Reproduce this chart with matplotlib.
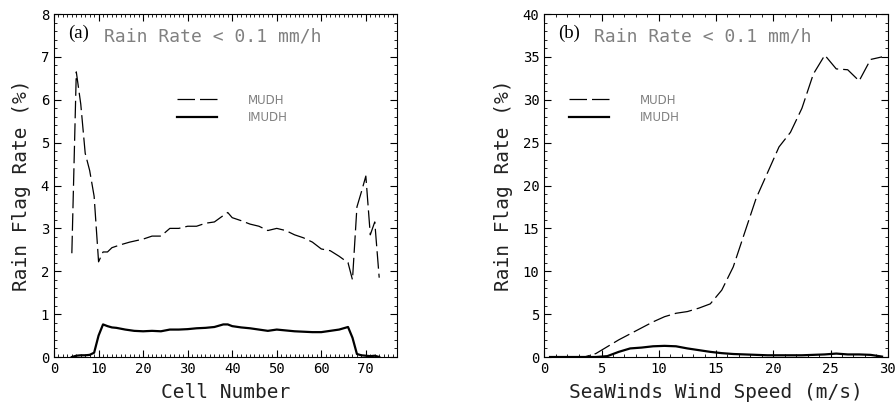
import matplotlib
matplotlib.use('Agg')
import matplotlib.pyplot as plt
from matplotlib.ticker import MultipleLocator, AutoMinorLocator

# panel (a): rain flag rate vs cell number
cell = [4, 5, 6, 7, 8, 9, 10, 11, 12, 13, 15, 17, 20, 22, 24, 26, 28, 30, 32, 34, 36, 38, 39,
        40, 42, 44, 46, 48, 50, 52, 54, 56, 58, 60, 62, 64, 66, 67, 68, 69, 70, 71, 72, 73]
mudh_a = [2.42, 6.65, 5.9, 4.75, 4.35, 3.75, 2.22, 2.45, 2.45, 2.55, 2.62, 2.68, 2.75, 2.82, 2.82,
          3.0, 3.0, 3.05, 3.05, 3.12, 3.15, 3.3, 3.37,
          3.25, 3.18, 3.1, 3.05, 2.95, 3.0, 2.95, 2.85, 2.78, 2.68, 2.52, 2.48, 2.35, 2.2,
          1.8, 3.5, 3.85, 4.22, 2.85, 3.15, 1.85]

cell_i = [4, 5, 6, 7, 8, 9, 10, 11, 12, 13, 14, 16, 18, 20, 22, 24, 26, 28, 30, 32, 34, 36, 38, 39,
          40, 42, 44, 46, 48, 50, 52, 54, 56, 58, 60, 62, 64, 66, 67, 68, 69, 70, 71, 72, 73]
imudh_a = [0.0, 0.03, 0.04, 0.04, 0.05, 0.1, 0.5, 0.76, 0.72, 0.69, 0.68, 0.64, 0.61, 0.6, 0.61,
           0.6, 0.64, 0.64, 0.65, 0.67, 0.68, 0.7, 0.76, 0.76,
           0.72, 0.69, 0.67, 0.64, 0.61, 0.64, 0.62, 0.6, 0.59, 0.58, 0.58, 0.61, 0.64, 0.7,
           0.45, 0.07, 0.04, 0.03, 0.02, 0.03, 0.0]

# panel (b): rain flag rate vs wind speed
wind = [0.5, 1.5, 2.5, 3.5, 4.5, 5.5, 6.5, 7.5, 8.5, 9.5, 10.5, 11.5, 12.5, 13.5, 14.5,
        15.5, 16.5, 17.5, 18.5, 19.5, 20.5, 21.5, 22.5, 23.5, 24.5, 25.5, 26.5, 27.5, 28.5, 29.5]
mudh_b = [0, 0, 0, 0, 0.4, 1.2, 2.0, 2.7, 3.4, 4.1, 4.7, 5.1, 5.3, 5.7, 6.2,
          7.8, 10.5, 14.5, 18.5, 21.5, 24.5, 26.2, 29.0, 33.0, 35.2, 33.6, 33.5, 32.2, 34.7, 35.0]
imudh_b = [0, 0, 0, 0, 0, 0.1, 0.6, 1.0, 1.1, 1.25, 1.3, 1.25, 1.0, 0.8, 0.6,
           0.45, 0.35, 0.3, 0.25, 0.2, 0.2, 0.2, 0.2, 0.25, 0.3, 0.4, 0.3, 0.3, 0.25, 0.05]

label_font = 'DejaVu Sans Mono'
gray = '#808080'

fig = plt.figure(figsize=(8.96, 4.05), dpi=100)
ax1 = fig.add_axes([0.0603, 0.1185, 0.3828, 0.8469])
ax2 = fig.add_axes([0.6075, 0.1185, 0.3833, 0.8469])


def style(ax, xmax, ymax, xmaj, xmin_n, ymaj, ymin_n, xlabel, tag, tx, ty):
    ax.set_xlim(0, xmax)
    ax.set_ylim(0, ymax)
    ax.xaxis.set_major_locator(MultipleLocator(xmaj))
    ax.xaxis.set_minor_locator(AutoMinorLocator(xmin_n))
    ax.yaxis.set_major_locator(MultipleLocator(ymaj))
    ax.yaxis.set_minor_locator(AutoMinorLocator(ymin_n))
    ax.tick_params(which='both', direction='in', top=True, right=True,
                   labelsize=10, colors='black')
    ax.tick_params(which='major', length=5, width=0.8)
    ax.tick_params(which='minor', length=2.5, width=0.6)
    for lab in ax.get_xticklabels() + ax.get_yticklabels():
        lab.set_family(label_font)
    ax.set_xlabel(xlabel, family=label_font, fontsize=14, labelpad=5, color='#222222')
    ax.set_ylabel('Rain Flag Rate (%)', family=label_font, fontsize=14, labelpad=7,
                  color='#222222')
    ax.text(tx, ty, tag, transform=ax.transAxes, family='Liberation Serif',
            fontsize=13.5, va='center', ha='left')
    ax.text(tx + 0.105, ty - 0.012, 'Rain Rate < 0.1 mm/h', transform=ax.transAxes,
            family=label_font, fontsize=13, color=gray, va='center', ha='left')


ax1.plot(cell, mudh_a, color='black', lw=0.9, dashes=(14, 4), label='MUDH')
ax1.plot(cell_i, imudh_a, color='black', lw=1.6, label='IMUDH')
style(ax1, 77, 8, 10, 10, 1, 5, 'Cell Number', '(a)', 0.04, 0.945)

ax2.plot(wind, mudh_b, color='black', lw=0.9, dashes=(14, 4), label='MUDH')
ax2.plot(wind, imudh_b, color='black', lw=1.6, label='IMUDH')
style(ax2, 30, 40, 5, 5, 5, 5, 'SeaWinds Wind Speed (m/s)', '(b)', 0.04, 0.945)

for ax, lx in [(ax1, 0.359), (ax2, 0.072)]:
    leg = ax.legend(loc='upper left', bbox_to_anchor=(lx, 0.768), frameon=False,
                    fontsize=8.5, handlelength=3.4, handletextpad=2.6,
                    labelspacing=0.4, borderpad=0, borderaxespad=0)
    for t in leg.get_texts():
        t.set_color(gray)

fig.savefig('out.png', dpi=100)
